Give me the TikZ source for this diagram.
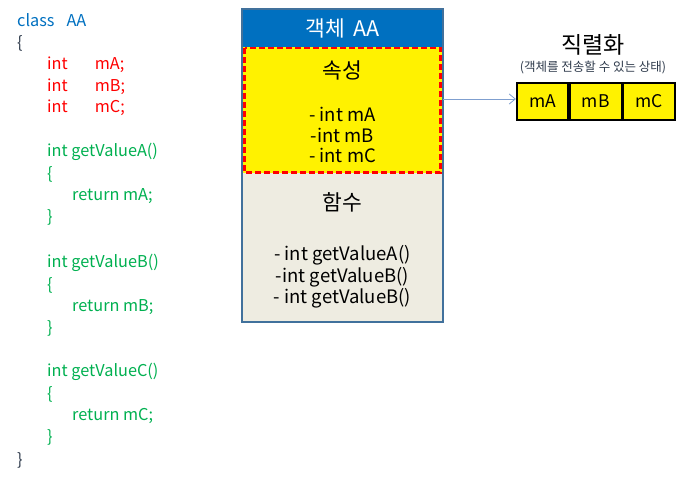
\documentclass[tikz,border=0pt]{standalone}
\usepackage{fontspec}
\setmainfont{Noto Sans CJK KR}
\usetikzlibrary{arrows.meta}
\definecolor{codeblue}{HTML}{0070C0}
\definecolor{codered}{HTML}{FF0000}
\definecolor{codegreen}{HTML}{00B050}
\definecolor{codedark}{HTML}{2F3B4C}
\definecolor{hdrblue}{HTML}{0070C0}
\definecolor{frame}{HTML}{41719C}
\definecolor{greyfill}{HTML}{EEECE1}
\definecolor{arrowc}{HTML}{7F9FCF}
\begin{document}
\begin{tikzpicture}[x=1pt,y=-1pt,
  code/.style={anchor=west,inner sep=0pt,font=\fontsize{16.3}{18}\selectfont},
  lbl/.style={inner sep=0pt,align=center},
  cell/.style={draw=black,line width=1.8pt,fill=yellow,minimum width=51.5pt,minimum height=37pt,inner sep=0pt,font=\fontsize{17.5}{18}\selectfont}]
\useasboundingbox (0,0) rectangle (685,479);
% code
\node[code,text=codeblue] (c1) at (17,20) {class\hspace{12pt}AA};
\node[code,text=codedark] (c2) at (17,43) {\{};
\node[code,text=codered] (c3) at (47,65) {int\hspace{27pt}mA;};
\node[code,text=codered] (c4) at (47,87) {int\hspace{27pt}mB;};
\node[code,text=codered] (c5) at (47,108) {int\hspace{27pt}mC;};
\node[code,text=codegreen] (c6) at (47,152) {int getValueA()};
\node[code,text=codegreen] (c7) at (47,174) {\{};
\node[code,text=codegreen] (c8) at (72,196) {return mA;};
\node[code,text=codegreen] (c9) at (47,217) {\}};
\node[code,text=codegreen] (c10) at (47,263) {int getValueB()};
\node[code,text=codegreen] (c11) at (47,285) {\{};
\node[code,text=codegreen] (c12) at (72,307) {return mB;};
\node[code,text=codegreen] (c13) at (47,328) {\}};
\node[code,text=codegreen] (c14) at (47,372) {int getValueC()};
\node[code,text=codegreen] (c15) at (47,394) {\{};
\node[code,text=codegreen] (c16) at (72,416) {return mC;};
\node[code,text=codegreen] (c17) at (47,437) {\}};
\node[code,text=codedark] (c18) at (17,460) {\}};
% object box
\fill[hdrblue] (242,9) rectangle (443,47);
\fill[yellow] (242,47) rectangle (443,173);
\fill[greyfill] (242,173) rectangle (443,322);
\draw[codered,line width=2.4pt,dash pattern=on 6pt off 3pt] (244.5,48) rectangle (440.5,172.5);
\draw[frame,line width=1.8pt] (242,9) rectangle (443,322);
\node[lbl,text=white,font=\fontsize{21.5}{22}\selectfont] (hdr) at (342.5,28) {객체\hspace{3pt} AA};
\node[lbl,font=\fontsize{21.5}{22}\selectfont] (attr) at (342.5,70) {속성};
\node[lbl,font=\fontsize{18.5}{20.5}\selectfont] (attrl) at (342.5,135) {- int mA\\-int mB\\- int mC};
\node[lbl,font=\fontsize{21.5}{22}\selectfont] (func) at (342.5,202) {함수};
\node[lbl,font=\fontsize{18.5}{21.5}\selectfont] (funcl) at (342.5,277) {- int getValueA()\\-int getValueB()\\- int getValueB()};
\coordinate (src) at (443,99);
% serialized
\node[cell] (mA) at (542.5,101.5) {mA};
\node[cell,anchor=west] (mB) at (mA.east) {mB};
\node[cell,anchor=west] (mC) at (mB.east) {mC};
\node[lbl,font=\fontsize{23}{24}\selectfont] (ser) at (593,45) {직렬화};
\node[lbl,font=\fontsize{12.5}{14}\selectfont,text=codedark] (sersub) at (593,67) {(객체를 전송할 수 있는 상태)};
\draw[arrowc,line width=0.8pt,-{Straight Barb[length=6pt,width=10pt]}] (src) -- (mA.west |- src);
\end{tikzpicture}
\end{document}
